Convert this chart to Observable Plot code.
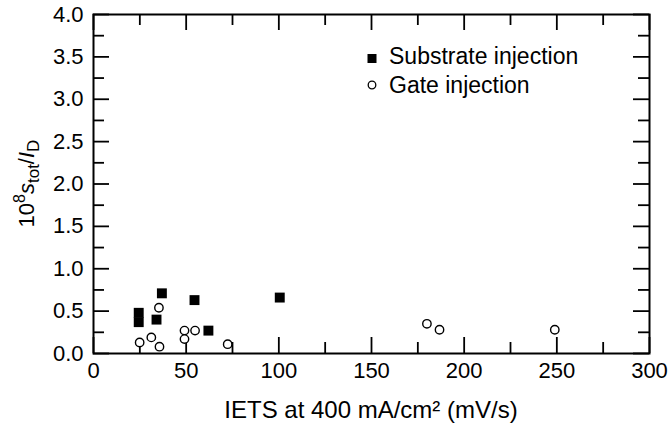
<!DOCTYPE html>
<html><head><meta charset="utf-8">
<script src="https://cdn.jsdelivr.net/npm/d3@7"></script>
<script src="https://cdn.jsdelivr.net/npm/@observablehq/plot@0.6"></script>
<style>
body{margin:0;background:#fff}
svg{font-family:"Liberation Sans",Arial,Helvetica,sans-serif}
</style>
</head><body><div id="chart"></div>
<script>
// Data
const substrateX = [24.4, 24.4, 36.9, 34.0, 54.5, 62.0, 100.5];
const substrateY = [0.48, 0.37, 0.71, 0.40, 0.63, 0.27, 0.66];
const gateX = [35.3, 24.9, 31.2, 35.6, 49.1, 54.8, 49.1, 72.4, 179.9, 186.7, 248.9];
const gateY = [0.54, 0.13, 0.19, 0.08, 0.27, 0.27, 0.17, 0.11, 0.35, 0.28, 0.28];
const xTicks = [0, 50, 100, 150, 200, 250, 300];
const xMinor = [25, 75, 125, 175, 225, 275];
const yTicks = [0, 0.5, 1.0, 1.5, 2.0, 2.5, 3.0, 3.5, 4.0];
const yMinor = [0.25, 0.75, 1.25, 1.75, 2.25, 2.75, 3.25, 3.75];
const xDomain = [0, 300];
const yDomain = [0, 4];
const seriesNames = ["Substrate injection", "Gate injection"];
const xLabel = "IETS at 400 mA/cm² (mV/s)";

const substrate = substrateX.map((x, i) => ({x, y: substrateY[i]}));
const gate = gateX.map((x, i) => ({x, y: gateY[i]}));

const W = 670, H = 424, mL = 93, mR = 21, mT = 14, mB = 71;
const fw = W - mL - mR, fh = H - mT - mB;
const majorPx = 16, minorPx = 11, tw = 1.8;
// tick lengths converted from pixels to data units
const ySpan = yDomain[1] - yDomain[0], xSpan = xDomain[1] - xDomain[0];
const yMaj = majorPx / fh * ySpan, yMin = minorPx / fh * ySpan;
const xMaj = majorPx / fw * xSpan, xMin = minorPx / fw * xSpan;

const plot = Plot.plot({
  width: W, height: H,
  marginLeft: mL, marginRight: mR, marginTop: mT, marginBottom: mB,
  style: {fontSize: "22px"},
  x: {domain: xDomain},
  y: {domain: yDomain},
  marks: [
    // inward ticks on all four sides
    Plot.ruleX(xTicks, {y1: yDomain[0], y2: yDomain[0] + yMaj, stroke: "black", strokeWidth: tw}),
    Plot.ruleX(xMinor, {y1: yDomain[0], y2: yDomain[0] + yMin, stroke: "black", strokeWidth: tw}),
    Plot.ruleX(xTicks, {y1: yDomain[1] - yMaj, y2: yDomain[1], stroke: "black", strokeWidth: tw}),
    Plot.ruleX(xMinor, {y1: yDomain[1] - yMin, y2: yDomain[1], stroke: "black", strokeWidth: tw}),
    Plot.ruleY(yTicks, {x1: xDomain[0], x2: xDomain[0] + xMaj, stroke: "black", strokeWidth: tw}),
    Plot.ruleY(yMinor, {x1: xDomain[0], x2: xDomain[0] + xMin, stroke: "black", strokeWidth: tw}),
    Plot.ruleY(yTicks, {x1: xDomain[1] - xMaj, x2: xDomain[1], stroke: "black", strokeWidth: tw}),
    Plot.ruleY(yMinor, {x1: xDomain[1] - xMin, x2: xDomain[1], stroke: "black", strokeWidth: tw}),
    Plot.axisX(xTicks, {tickSize: 0, tickPadding: 9, label: null}),
    Plot.axisY(yTicks, {tickSize: 0, tickPadding: 10, label: null, tickFormat: d => d.toFixed(1)}),
    Plot.frame({stroke: "black", strokeWidth: 2}),
    Plot.dot(gate, {x: "x", y: "y", r: 4.2, fill: "white", stroke: "black", strokeWidth: 1.4}),
    Plot.dot(substrate, {x: "x", y: "y", symbol: "square", r: 5.6, fill: "black"})
  ]
});
document.getElementById("chart").appendChild(plot);

const svg = d3.select(plot);
// x-axis title
svg.append("text")
  .attr("x", mL + fw / 2).attr("y", 418)
  .attr("text-anchor", "middle").style("font-size", "24px")
  .text(xLabel);
// y-axis title with italic, super/subscripts
const yl = svg.append("text")
  .attr("transform", `translate(34,${mT + fh / 2}) rotate(-90)`)
  .attr("text-anchor", "middle").style("font-size", "22px");
yl.append("tspan").text("10");
yl.append("tspan").attr("dy", -9).style("font-size", "16px").text("8");
yl.append("tspan").attr("dy", 9).style("font-style", "italic").text("s");
yl.append("tspan").attr("dy", 5).style("font-size", "17px").text("tot");
yl.append("tspan").attr("dy", -5).text("/");
yl.append("tspan").style("font-style", "italic").text("I");
yl.append("tspan").attr("dy", 5).style("font-size", "17px").text("D");

// legend
const lx = 372, ly = [64, 93];
svg.append("rect").attr("x", lx - 4.5).attr("y", ly[0] - 10).attr("width", 9).attr("height", 9).attr("fill", "black");
svg.append("circle").attr("cx", lx).attr("cy", ly[1] - 8).attr("r", 3.8).attr("fill", "white").attr("stroke", "black").attr("stroke-width", 1.3);
seriesNames.forEach((name, i) => {
  svg.append("text").attr("x", 389).attr("y", ly[i])
    .attr("text-anchor", "start").style("font-size", "23px").text(name);
});
</script>
</body></html>
